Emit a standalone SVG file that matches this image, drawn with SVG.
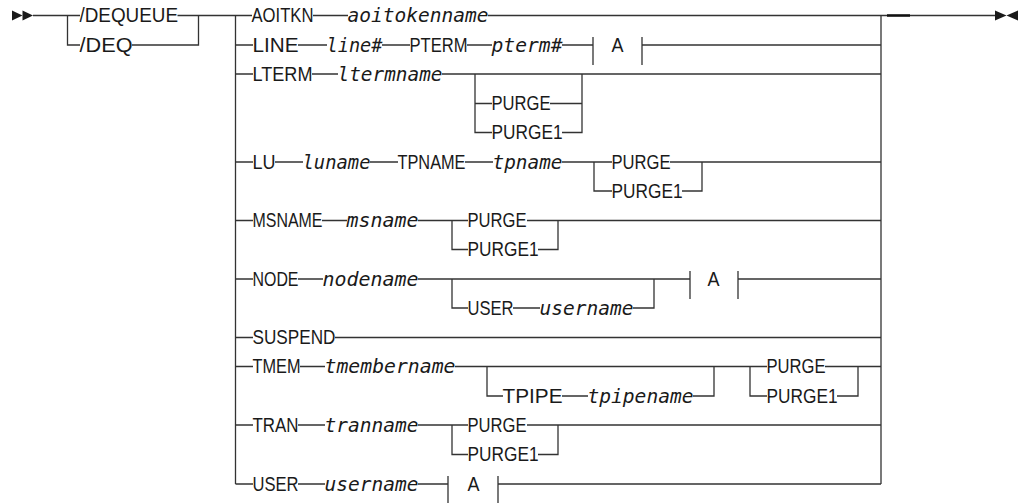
<svg xmlns="http://www.w3.org/2000/svg" width="1024" height="503" viewBox="0 0 1024 503">
<style>
.c{fill:none;stroke:#333;stroke-width:1.3}
.k{font-family:"Liberation Sans",Arial,sans-serif;font-size:21px;fill:#1a1a1a}
.v{font-family:"DejaVu Sans Mono",monospace;font-style:italic;font-size:20px;fill:#1a1a1a}
.m{fill:#1a1a1a}
</style>
<rect width="1024" height="503" fill="#fff"/>
<g id="connectors">
<path class="c" d="M33 15.5H80M177.5 15.5H252M313 15.5H348M488 15.5H995"/>
<path class="c" d="M67.5 15.5V45H80M132 45H198.5V15.5"/>
<path class="c" d="M235.5 15.5V484M881 15.5V484"/>
<path class="c" d="M235.5 45H253M298 45H327M382 45H410M467 45H492M562 45H593M642 45H881M593 37V65M642 37V65"/>
<path class="c" d="M235.5 74H253M312 74H338M442 74H881M475 74V132.5H492M475 103.5H492M550 103.5H582M562 132.5H582V74"/>
<path class="c" d="M235.5 162H253M275 162H303M370 162H398M465 162H493M562 162H612M670 162H881M594 162V191H612M682 191H702V162"/>
<path class="c" d="M235.5 220.5H253M322 220.5H347M418 220.5H468M527 220.5H881M452 220.5V249.5H468M538 249.5H558V220.5"/>
<path class="c" d="M235.5 279H253M298 279H323M418 279H690M738 279H881M690 271V299M738 271V299M452 279V308H468M513 308H540M633 308H654V279"/>
<path class="c" d="M235.5 337.5H253M335 337.5H881"/>
<path class="c" d="M235.5 366.5H253M300 366.5H325M455 366.5H767M825 366.5H881M487 366.5V396H503M562 396H588M693 396H714V366.5M750 366.5V396H767M837 396H858V366.5"/>
<path class="c" d="M235.5 425H253M298 425H325M418 425H468M527 425H881M452 425V454.5H468M538 454.5H558V425"/>
<path class="c" d="M235.5 484H253M298 484H325M418 484H448M498 484H881M448 476V504M498 476V504"/>
<path d="M887 15.5H910" stroke="#111" stroke-width="2.5"/>
<polygon class="m" points="12,10.5 22.5,15.5 12,20.5"/>
<polygon class="m" points="22.5,10.5 33,15.5 22.5,20.5"/>
<polygon class="m" points="995,10.5 1006.5,15.5 995,20.5"/>
<polygon class="m" points="1018,10.5 1006.5,15.5 1018,20.5"/>
</g>
<g id="node-dequeue"><text class="k" x="79.5" y="22" textLength="98.5" lengthAdjust="spacingAndGlyphs">/DEQUEUE</text></g>
<g id="node-deq"><text class="k" x="79.5" y="51.5" textLength="53" lengthAdjust="spacingAndGlyphs">/DEQ</text></g>
<g id="node-aoitkn"><text class="k" x="251.5" y="22" textLength="62" lengthAdjust="spacingAndGlyphs">AOITKN</text><text class="v" x="347.5" y="22" textLength="141" lengthAdjust="spacingAndGlyphs">aoitokenname</text></g>
<g id="node-line"><text class="k" x="252.5" y="51.5" textLength="46" lengthAdjust="spacingAndGlyphs">LINE</text><text class="v" x="326.5" y="51.5" textLength="56" lengthAdjust="spacingAndGlyphs">line#</text><text class="k" x="409.5" y="51.5" textLength="58" lengthAdjust="spacingAndGlyphs">PTERM</text><text class="v" x="491.5" y="51.5" textLength="71" lengthAdjust="spacingAndGlyphs">pterm#</text><text class="k" x="611.5" y="51.5" textLength="12" lengthAdjust="spacingAndGlyphs">A</text></g>
<g id="node-lterm"><text class="k" x="252.5" y="80.5" textLength="60" lengthAdjust="spacingAndGlyphs">LTERM</text><text class="v" x="337.5" y="80.5" textLength="105" lengthAdjust="spacingAndGlyphs">ltermname</text><text class="k" x="491.5" y="110" textLength="59" lengthAdjust="spacingAndGlyphs">PURGE</text><text class="k" x="491.5" y="139" textLength="71" lengthAdjust="spacingAndGlyphs">PURGE1</text></g>
<g id="node-lu"><text class="k" x="252.5" y="168.5" textLength="23" lengthAdjust="spacingAndGlyphs">LU</text><text class="v" x="302.5" y="168.5" textLength="68" lengthAdjust="spacingAndGlyphs">luname</text><text class="k" x="397.5" y="168.5" textLength="68" lengthAdjust="spacingAndGlyphs">TPNAME</text><text class="v" x="492.5" y="168.5" textLength="70" lengthAdjust="spacingAndGlyphs">tpname</text><text class="k" x="611.5" y="168.5" textLength="59" lengthAdjust="spacingAndGlyphs">PURGE</text><text class="k" x="611.5" y="197.5" textLength="71" lengthAdjust="spacingAndGlyphs">PURGE1</text></g>
<g id="node-msname"><text class="k" x="252.5" y="227" textLength="70" lengthAdjust="spacingAndGlyphs">MSNAME</text><text class="v" x="346.5" y="227" textLength="72" lengthAdjust="spacingAndGlyphs">msname</text><text class="k" x="467.5" y="227" textLength="59" lengthAdjust="spacingAndGlyphs">PURGE</text><text class="k" x="467.5" y="256" textLength="71" lengthAdjust="spacingAndGlyphs">PURGE1</text></g>
<g id="node-node"><text class="k" x="252.5" y="285.5" textLength="46" lengthAdjust="spacingAndGlyphs">NODE</text><text class="v" x="322.5" y="285.5" textLength="96" lengthAdjust="spacingAndGlyphs">nodename</text><text class="k" x="467.5" y="314.5" textLength="46" lengthAdjust="spacingAndGlyphs">USER</text><text class="v" x="539.5" y="314.5" textLength="94" lengthAdjust="spacingAndGlyphs">username</text><text class="k" x="707.5" y="285.5" textLength="12" lengthAdjust="spacingAndGlyphs">A</text></g>
<g id="node-suspend"><text class="k" x="252.5" y="344" textLength="83" lengthAdjust="spacingAndGlyphs">SUSPEND</text></g>
<g id="node-tmem"><text class="k" x="252.5" y="373" textLength="48" lengthAdjust="spacingAndGlyphs">TMEM</text><text class="v" x="324.5" y="373" textLength="131" lengthAdjust="spacingAndGlyphs">tmembername</text><text class="k" x="502.5" y="402.5" textLength="60" lengthAdjust="spacingAndGlyphs">TPIPE</text><text class="v" x="587.5" y="402.5" textLength="106" lengthAdjust="spacingAndGlyphs">tpipename</text><text class="k" x="766.5" y="373" textLength="59" lengthAdjust="spacingAndGlyphs">PURGE</text><text class="k" x="766.5" y="402.5" textLength="71" lengthAdjust="spacingAndGlyphs">PURGE1</text></g>
<g id="node-tran"><text class="k" x="252.5" y="431.5" textLength="46" lengthAdjust="spacingAndGlyphs">TRAN</text><text class="v" x="324.5" y="431.5" textLength="94" lengthAdjust="spacingAndGlyphs">tranname</text><text class="k" x="467.5" y="431.5" textLength="59" lengthAdjust="spacingAndGlyphs">PURGE</text><text class="k" x="467.5" y="461" textLength="71" lengthAdjust="spacingAndGlyphs">PURGE1</text></g>
<g id="node-user"><text class="k" x="252.5" y="490.5" textLength="46" lengthAdjust="spacingAndGlyphs">USER</text><text class="v" x="324.5" y="490.5" textLength="94" lengthAdjust="spacingAndGlyphs">username</text><text class="k" x="467.5" y="490.5" textLength="12" lengthAdjust="spacingAndGlyphs">A</text></g>
</svg>
